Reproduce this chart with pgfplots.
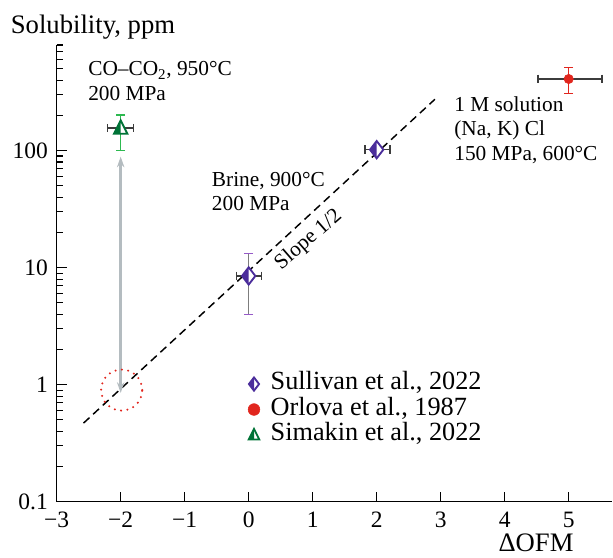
\documentclass[border=0pt]{standalone}
\usepackage{fontspec}
\setmainfont{Liberation Serif}
\setsansfont{Liberation Serif}
\usepackage{pgfplots}
\pgfplotsset{compat=1.18}
\usetikzlibrary{arrows.meta}
\definecolor{sulp}{RGB}{75,45,155}
\definecolor{sulcap}{RGB}{150,90,200}
\definecolor{orlr}{RGB}{225,38,30}
\definecolor{simg}{RGB}{0,115,55}
\definecolor{simgl}{RGB}{45,185,80}
\definecolor{arrg}{RGB}{180,188,192}
\definecolor{errk}{RGB}{60,60,60}
\definecolor{errg}{RGB}{125,125,125}

\pgfdeclareplotmark{sulli}{%
 \pgfpathmoveto{\pgfqpoint{0pt}{1.3\pgfplotmarksize}}%
 \pgfpathlineto{\pgfqpoint{\pgfplotmarksize}{0pt}}%
 \pgfpathlineto{\pgfqpoint{0pt}{-1.3\pgfplotmarksize}}%
 \pgfpathlineto{\pgfqpoint{-\pgfplotmarksize}{0pt}}%
 \pgfpathclose
 \pgfsetfillcolor{white}\pgfusepath{fill}%
 \pgfpathmoveto{\pgfqpoint{0pt}{1.3\pgfplotmarksize}}%
 \pgfpathlineto{\pgfqpoint{-\pgfplotmarksize}{0pt}}%
 \pgfpathlineto{\pgfqpoint{0pt}{-1.3\pgfplotmarksize}}%
 \pgfpathclose
 \pgfsetfillcolor{sulp}\pgfusepath{fill}%
 \pgfpathmoveto{\pgfqpoint{0pt}{1.3\pgfplotmarksize}}%
 \pgfpathlineto{\pgfqpoint{\pgfplotmarksize}{0pt}}%
 \pgfpathlineto{\pgfqpoint{0pt}{-1.3\pgfplotmarksize}}%
 \pgfpathlineto{\pgfqpoint{-\pgfplotmarksize}{0pt}}%
 \pgfpathclose
 \pgfsetstrokecolor{sulp}\pgfusepath{stroke}%
}
\pgfdeclareplotmark{sima}{%
 \pgfpathmoveto{\pgfqpoint{0pt}{1.15\pgfplotmarksize}}%
 \pgfpathlineto{\pgfqpoint{\pgfplotmarksize}{-0.85\pgfplotmarksize}}%
 \pgfpathlineto{\pgfqpoint{-\pgfplotmarksize}{-0.85\pgfplotmarksize}}%
 \pgfpathclose
 \pgfsetfillcolor{white}\pgfusepath{fill}%
 \pgfpathmoveto{\pgfqpoint{0pt}{1.15\pgfplotmarksize}}%
 \pgfpathlineto{\pgfqpoint{0pt}{-0.85\pgfplotmarksize}}%
 \pgfpathlineto{\pgfqpoint{-\pgfplotmarksize}{-0.85\pgfplotmarksize}}%
 \pgfpathclose
 \pgfsetfillcolor{simg}\pgfusepath{fill}%
 \pgfpathmoveto{\pgfqpoint{0pt}{1.15\pgfplotmarksize}}%
 \pgfpathlineto{\pgfqpoint{\pgfplotmarksize}{-0.85\pgfplotmarksize}}%
 \pgfpathlineto{\pgfqpoint{-\pgfplotmarksize}{-0.85\pgfplotmarksize}}%
 \pgfpathclose
 \pgfsetstrokecolor{simg}\pgfusepath{stroke}%
}

\begin{document}
\begin{tikzpicture}
\begin{semilogyaxis}[
  name=ax,
  scale only axis,
  width=416.6pt, height=342.5pt,
  xmin=-3, xmax=5.68, ymin=0.1, ymax=800,
  axis lines*=left,
  axis line style={line width=0.9pt},
  tick align=inside,
  major tick length=7.5pt, minor tick length=5pt,
  tick style={line width=0.8pt, black},
  xtick={-3,-2,-1,0,1,2,3,4,5},
  xticklabels={−3,−2,−1,0,1,2,3,4,5},
  ytick={0.1,1,10,100},
  yticklabels={0.1,1,10,100},
  minor ytick={0.2,0.3,0.4,0.5,0.6,0.7,0.8,0.9,2,3,4,5,6,7,8,9,20,30,40,50,60,70,80,90,200,300,400,500,600,700,800},
  ticklabel style={font=\rmfamily\fontsize{17.6}{20}\selectfont},
  xticklabel style={anchor=north, inner sep=0pt, yshift=-7.7pt},
  yticklabel style={anchor=east, inner sep=0pt, xshift=-6.5pt},
  clip=false,
  legend style={at={(0.3408,0.2855)}, anchor=north west, draw=none, fill=none,
    inner sep=0pt, outer sep=0pt, row sep=0pt, column sep=6.5pt,
    font=\rmfamily\fontsize{19.7}{22}\selectfont,
    nodes={inner sep=0pt, text height=14pt, text depth=5.1pt}},
  legend cell align=left,
  legend image code/.code={\path[draw=none,fill=none] (-6pt,-6pt) rectangle (6pt,6pt); \draw[#1] plot coordinates {(0pt,0pt)};},
]
% slope 1/2 reference line
\addplot[black, line width=1.1pt, dash pattern=on 6pt off 3.8pt, forget plot] coordinates {(-2.58,0.47) (2.91,275)};
% arrow
\addplot[arrg, line width=2pt, {Stealth[length=8pt,width=5.5pt]}-{Stealth[length=8pt,width=5.5pt]}, forget plot] coordinates {(-2,0.85) (-2,89)};
% dotted circle
\draw[orlr, line width=1.7pt, line cap=round, dash pattern=on 0pt off 4.8pt] (axis cs:-1.984,0.90) circle[radius=15.4pt];
% error bars Sullivan
\addplot[errg, line width=1pt, mark=-, mark size=3.4pt, mark options={sulcap, solid}, forget plot] coordinates {(0,4.0) (0,13.3)};
\addplot[errk, line width=1pt, mark=|, mark size=3.2pt, forget plot] coordinates {(-0.19,8.5) (0.2,8.5)};
\addplot[errk, line width=1pt, mark=|, mark size=3.2pt, forget plot] coordinates {(1.82,102) (2.21,102)};
% error bars Simakin
\addplot[simgl, line width=1pt, mark=-, mark size=3.4pt, forget plot] coordinates {(-2,101) (-2,202)};
\addplot[errk, line width=1pt, mark=|, mark size=3.2pt, forget plot] coordinates {(-2.21,156) (-1.80,156)};
% error bars Orlova
\addplot[orlr, line width=1pt, mark=-, mark size=3.4pt, forget plot] coordinates {(5,309) (5,513)};
\addplot[errk, line width=1pt, mark=|, mark size=3.2pt, forget plot] coordinates {(4.52,410) (5.52,410)};
% markers
\addplot[only marks, mark=sulli, mark size=5pt, mark options={line width=1.4pt}, forget plot] coordinates {(0,8.5) (2,102)};
\addplot[only marks, mark=sima, mark size=5pt, mark options={line width=1.4pt}, forget plot] coordinates {(-2,156)};
\addplot[only marks, mark=*, mark size=3.5pt, color=orlr, forget plot] coordinates {(5,410)};
% legend
\addlegendimage{only marks, mark=sulli, mark size=3.8pt, mark options={line width=1.4pt}}
\addlegendentry{Sullivan et al., 2022}
\addlegendimage{only marks, mark=*, mark size=4.4pt, color=orlr}
\addlegendentry{Orlova et al., 1987}
\addlegendimage{only marks, mark=sima, mark size=4pt, mark options={line width=1.4pt}}
\addlegendentry{Simakin et al., 2022}
% annotations
\node[anchor=base west, font=\fontsize{16}{19}\selectfont, inner sep=0pt] at (axis cs:-2.51,435) {CO–CO\textsubscript{2}, 950°C};
\node[anchor=base west, font=\fontsize{16}{19}\selectfont, inner sep=0pt] at (axis cs:-2.51,271) {200 MPa};
\node[anchor=base west, font=\fontsize{16}{19}\selectfont, inner sep=0pt] at (axis cs:-0.578,49.2) {Brine, 900°C};
\node[anchor=base west, font=\fontsize{16}{19}\selectfont, inner sep=0pt] at (axis cs:-0.578,30.7) {200 MPa};
\node[anchor=base west, font=\fontsize{16}{19}\selectfont, inner sep=0pt] at (axis cs:3.21,218) {1 M solution};
\node[anchor=base west, font=\fontsize{16}{19}\selectfont, inner sep=0pt] at (axis cs:3.21,136) {(Na, K) Cl};
\node[anchor=base west, font=\fontsize{16}{19}\selectfont, inner sep=0pt] at (axis cs:3.21,82.1) {150 MPa, 600°C};
\node[anchor=base, rotate=41, font=\fontsize{16}{19}\selectfont, inner sep=0pt] at (axis cs:0.99,16.0) {Slope 1/2};
% axis titles
\node[anchor=base west, font=\fontsize{20}{24}\selectfont, inner sep=0pt] at (axis cs:-3.72,1013) {Solubility, ppm};
\node[anchor=base, font=\fontsize{20}{24}\selectfont, inner sep=0pt] at (axis cs:4.49,0.0376) {ΔOFM};
\end{semilogyaxis}
\pgfresetboundingbox
\path[use as bounding box] ([xshift=-42.5pt,yshift=-41.5pt]ax.south west) rectangle ([xshift=0.6pt,yshift=33.75pt]ax.north east);
\end{tikzpicture}
\end{document}
